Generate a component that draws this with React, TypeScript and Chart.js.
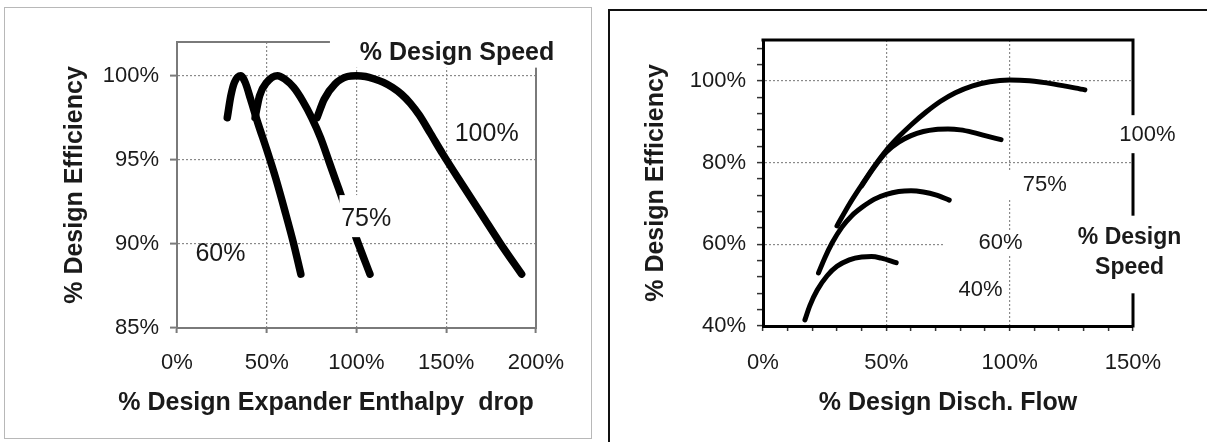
import React, { useEffect, useRef } from 'react';
import { Chart, registerables } from 'chart.js';

Chart.register(...registerables);

const FONT = '"Liberation Sans", Arial, Helvetica, sans-serif';

// ---------------- Left chart: % design efficiency vs % design expander enthalpy drop
const leftSeriesNames = ['60%', '75%', '100%'];
const leftX60 = [28, 30, 32, 35.5, 38, 41, 45, 50, 55, 60, 65, 69];
const leftY60 = [97.5, 98.8, 99.6, 100, 99.6, 98.6, 97.2, 95.6, 93.9, 92.0, 90.0, 88.2];
const leftX75 = [43.5, 46, 50, 56, 60, 65, 70, 75, 80, 85, 90, 95, 100, 107.5];
const leftY75 = [97.5, 98.8, 99.6, 100, 99.8, 99.3, 98.5, 97.5, 96.3, 94.8, 93.3, 91.8, 90.3, 88.2];
const leftX100 = [78, 82, 88, 95, 100, 105, 110, 115, 120, 125, 130, 135, 141, 148, 160, 170, 180, 192];
const leftY100 = [97.5, 98.6, 99.5, 99.95, 100, 99.95, 99.8, 99.6, 99.3, 98.9, 98.35, 97.65, 96.6, 95.35, 93.35, 91.7, 90.05, 88.2];
const leftXTicks = [0, 50, 100, 150, 200];
const leftYTicks = [85, 90, 95, 100];

// ---------------- Right chart: % design efficiency vs % design discharge flow
const rightSeriesNames = ['100%', '75%', '60%', '40%'];
const rightX100 = [30, 35, 40, 45, 50, 55, 60, 66, 72, 78, 85, 92, 100, 108, 118, 130.5];
const rightY100 = [64.5, 69.8, 74.5, 79.0, 83.0, 86.3, 89.2, 92.3, 95.0, 97.1, 98.8, 99.8, 100.2, 100.0, 99.2, 97.8];
const rightX75 = [40, 45, 50, 55, 60, 65, 70, 75, 80, 85, 90, 96.5];
const rightY75 = [74.3, 78.8, 82.6, 85.0, 86.6, 87.6, 88.1, 88.2, 88.0, 87.4, 86.6, 85.6];
const rightX60 = [22.5, 25, 28, 32, 36, 40, 45, 50, 55, 60, 65, 70, 75.5];
const rightY60 = [53, 56.6, 60.3, 64.2, 67.0, 69.0, 71.0, 72.2, 72.9, 73.1, 72.8, 72.1, 70.8];
const rightX40 = [17, 19, 22, 26, 30, 35, 40, 44, 48, 54];
const rightY40 = [41.5, 45.0, 48.8, 52.3, 54.6, 56.2, 56.9, 57.0, 56.6, 55.5];
const rightXTicks = [0, 10, 20, 30, 40, 50, 60, 70, 80, 90, 100, 110, 120, 130, 140, 150];
const rightYTicks = [40, 44, 48, 52, 56, 60, 64, 68, 72, 76, 80, 84, 88, 92, 96, 100, 104, 108];

const zip = (xs: number[], ys: number[]) => xs.map((x, i) => ({ x, y: ys[i] }));

type Label = {
  lines: string[];
  x: number;
  y: number;
  font: string;
  gap?: number;
  box?: number[];
};

function annotPlugin(labels: Label[], frameColor: string, frameWidth: number, extra?: (c: any) => void) {
  return {
    id: 'annot',
    beforeDatasetsDraw(chart: any) {
      const { ctx, chartArea: a } = chart;
      ctx.save();
      ctx.strokeStyle = frameColor;
      ctx.lineWidth = frameWidth;
      ctx.lineCap = 'square';
      ctx.beginPath();
      ctx.moveTo(a.left, a.top);
      ctx.lineTo(a.right, a.top);
      ctx.lineTo(a.right, a.bottom);
      ctx.stroke();
      ctx.restore();
    },
    afterDraw(chart: any) {
      const { ctx, scales } = chart;
      const xs = scales.x;
      const ys = scales.y;
      ctx.save();
      labels.forEach((l) => {
        if (l.box) {
          const x0 = xs.getPixelForValue(l.box[0]);
          const x1 = xs.getPixelForValue(l.box[1]);
          const y0 = ys.getPixelForValue(l.box[2]);
          const y1 = ys.getPixelForValue(l.box[3]);
          ctx.fillStyle = '#ffffff';
          ctx.fillRect(Math.min(x0, x1), Math.min(y0, y1), Math.abs(x1 - x0), Math.abs(y1 - y0));
        }
        ctx.font = l.font;
        ctx.fillStyle = '#1a1a1a';
        ctx.textAlign = 'center';
        ctx.textBaseline = 'middle';
        const cx = xs.getPixelForValue(l.x);
        const cy = ys.getPixelForValue(l.y);
        const gap = l.gap || 0;
        const start = cy - ((l.lines.length - 1) * gap) / 2;
        l.lines.forEach((t, i) => ctx.fillText(t, cx, start + i * gap));
      });
      if (extra) extra(chart);
      ctx.restore();
    },
  };
}

const leftLabels: Label[] = [
  { lines: ['% Design Speed'], x: 156, y: 101.35, font: `bold 25px ${FONT}`, box: [85.2, 218, 100.476, 103.6] },
  { lines: [leftSeriesNames[2]], x: 172.5, y: 96.5, font: `25px ${FONT}` },
  { lines: [leftSeriesNames[1]], x: 105.4, y: 91.5, font: `25px ${FONT}`, box: [90.5, 119, 90.4, 92.9] },
  { lines: [leftSeriesNames[0]], x: 24.2, y: 89.4, font: `25px ${FONT}` },
];

const rightLabels: Label[] = [
  { lines: [rightSeriesNames[0]], x: 155.8, y: 86.8, font: `22px ${FONT}`, box: [143, 168, 82.3, 91.6] },
  { lines: [rightSeriesNames[1]], x: 114.2, y: 74.6, font: `22px ${FONT}`, box: [99, 128, 71, 78] },
  { lines: [rightSeriesNames[2]], x: 96.3, y: 60.3, font: `22px ${FONT}`, box: [73, 126, 57.5, 63] },
  { lines: [rightSeriesNames[3]], x: 88.2, y: 48.9, font: `22px ${FONT}` },
  { lines: ['% Design', 'Speed'], x: 148.6, y: 57.9, gap: 30, font: `bold 23px ${FONT}`, box: [125, 171, 48, 67] },
];

const lineStyle = (w: number) => ({
  borderColor: '#000000',
  backgroundColor: '#000000',
  borderWidth: w,
  pointRadius: 0,
  pointHoverRadius: 0,
  showLine: true,
  fill: false,
  cubicInterpolationMode: 'monotone' as const,
  borderCapStyle: 'round' as const,
  borderJoinStyle: 'round' as const,
  clip: 12,
});

function leftConfig(): any {
  const axisGray = '#7a7a7a';
  return {
    type: 'scatter',
    data: {
      datasets: [
        { label: leftSeriesNames[0], data: zip(leftX60, leftY60), ...lineStyle(7.5) },
        { label: leftSeriesNames[1], data: zip(leftX75, leftY75), ...lineStyle(7.5) },
        { label: leftSeriesNames[2], data: zip(leftX100, leftY100), ...lineStyle(7.5) },
      ],
    },
    options: {
      responsive: false,
      animation: false,
      events: [],
      layout: { padding: { left: 0, right: 64, top: 42, bottom: 0 } },
      plugins: { legend: { display: false }, tooltip: { enabled: false } },
      scales: {
        x: {
          type: 'linear',
          min: 0,
          max: 200,
          afterBuildTicks: (s: any) => { s.ticks = leftXTicks.map((v) => ({ value: v })); },
          afterFit: (s: any) => { s.height = 442 - 328; },
          ticks: { callback: (v: any) => v + '%', padding: 17, color: '#1a1a1a', font: { size: 22, family: FONT }, maxRotation: 0 },
          grid: {
            color: (c: any) => (c.tick && c.tick.value > 0 && c.tick.value < 200 ? '#8a8a8a' : 'rgba(0,0,0,0)'),
            lineWidth: 1.2,
            tickLength: 5,
            tickColor: axisGray,
            tickWidth: 2,
          },
          border: { display: true, color: axisGray, width: 2, dash: [2, 2] },
        },
        y: {
          type: 'linear',
          min: 85,
          max: 102,
          afterBuildTicks: (s: any) => { s.ticks = leftYTicks.map((v) => ({ value: v })); },
          afterFit: (s: any) => { s.width = 177; },
          ticks: { callback: (v: any) => v + '%', padding: 11, color: '#1a1a1a', font: { size: 22, family: FONT } },
          title: {
            display: true,
            text: '% Design Efficiency',
            color: '#1a1a1a',
            font: { size: 25, weight: 'bold', family: FONT },
            padding: { top: 60, bottom: 0 },
          },
          grid: {
            color: (c: any) => (c.tick && c.tick.value > 85 ? '#8a8a8a' : 'rgba(0,0,0,0)'),
            lineWidth: 1.2,
            tickLength: 7,
            tickColor: axisGray,
            tickWidth: 2,
          },
          border: { display: true, color: axisGray, width: 2, dash: [2, 2] },
        },
      },
    },
    plugins: [
      annotPlugin(leftLabels, axisGray, 2, (chart: any) => {
        const { ctx } = chart;
        ctx.font = `bold 25px ${FONT}`;
        ctx.fillStyle = '#1a1a1a';
        ctx.textAlign = 'center';
        ctx.textBaseline = 'middle';
        ctx.fillText('% Design Expander Enthalpy  drop', 326, 403);
      }),
    ],
  };
}

function rightConfig(): any {
  const axisBlack = '#000000';
  return {
    type: 'scatter',
    data: {
      datasets: [
        { label: rightSeriesNames[0], data: zip(rightX100, rightY100), ...lineStyle(5) },
        { label: rightSeriesNames[1], data: zip(rightX75, rightY75), ...lineStyle(5) },
        { label: rightSeriesNames[2], data: zip(rightX60, rightY60), ...lineStyle(5) },
        { label: rightSeriesNames[3], data: zip(rightX40, rightY40), ...lineStyle(5) },
      ],
    },
    options: {
      responsive: false,
      animation: false,
      events: [],
      layout: { padding: { left: 0, right: 74, top: 40, bottom: 0 } },
      plugins: { legend: { display: false }, tooltip: { enabled: false } },
      scales: {
        x: {
          type: 'linear',
          min: 0,
          max: 150,
          afterBuildTicks: (s: any) => { s.ticks = rightXTicks.map((v) => ({ value: v })); },
          afterFit: (s: any) => { s.height = 442 - 326; },
          ticks: {
            callback: (v: any) => (v % 50 === 0 ? v + '%' : ''),
            padding: 19,
            color: '#1a1a1a',
            font: { size: 22, family: FONT },
            maxRotation: 0,
            autoSkip: false,
          },
          title: {
            display: true,
            text: '% Design Disch. Flow',
            color: '#1a1a1a',
            font: { size: 25, weight: 'bold', family: FONT },
            padding: { top: 0, bottom: 24 },
          },
          grid: {
            color: (c: any) => (c.tick && c.tick.value % 50 === 0 && c.tick.value > 0 && c.tick.value < 150 ? '#8a8a8a' : 'rgba(0,0,0,0)'),
            lineWidth: 1.2,
            tickLength: 5,
            tickColor: '#333333',
            tickWidth: 1.5,
          },
          border: { display: true, color: axisBlack, width: 3, dash: [2, 2] },
        },
        y: {
          type: 'linear',
          min: 40,
          max: 110,
          afterBuildTicks: (s: any) => { s.ticks = rightYTicks.map((v) => ({ value: v })); },
          afterFit: (s: any) => { s.width = 163; },
          ticks: {
            callback: (v: any) => (v % 20 === 0 ? v + '%' : ''),
            padding: 11,
            color: '#1a1a1a',
            font: { size: 22, family: FONT },
            autoSkip: false,
          },
          title: {
            display: true,
            text: '% Design Efficiency',
            color: '#1a1a1a',
            font: { size: 25, weight: 'bold', family: FONT },
            padding: { top: 41, bottom: 0 },
          },
          grid: {
            color: (c: any) => (c.tick && c.tick.value % 20 === 0 && c.tick.value > 40 ? '#8a8a8a' : 'rgba(0,0,0,0)'),
            lineWidth: 1.2,
            tickLength: 6,
            tickColor: '#333333',
            tickWidth: 1.5,
          },
          border: { display: true, color: axisBlack, width: 3, dash: [2, 2] },
        },
      },
    },
    plugins: [annotPlugin(rightLabels, axisBlack, 3)],
  };
}

function ChartCanvas({ width, height, config, style }: { width: number; height: number; config: () => any; style: React.CSSProperties }) {
  const ref = useRef<HTMLCanvasElement | null>(null);
  useEffect(() => {
    if (!ref.current) return;
    const chart = new Chart(ref.current, config());
    return () => chart.destroy();
  }, [config]);
  return <canvas ref={ref} width={width} height={height} style={{ position: 'absolute', width, height, ...style }} />;
}

export default function App() {
  return (
    <div style={{ position: 'absolute', left: 0, top: 0, width: 1207, height: 442, overflow: 'hidden', background: '#ffffff' }}>
      <div style={{ position: 'absolute', left: 4, top: 7, width: 586, height: 430, border: '1px solid #b8b8b8' }} />
      <div style={{ position: 'absolute', left: 608, top: 9, width: 700, height: 500, border: '2px solid #111111' }} />
      <ChartCanvas width={600} height={442} config={leftConfig} style={{ left: 0, top: 0 }} />
      <ChartCanvas width={607} height={442} config={rightConfig} style={{ left: 600, top: 0 }} />
    </div>
  );
}
